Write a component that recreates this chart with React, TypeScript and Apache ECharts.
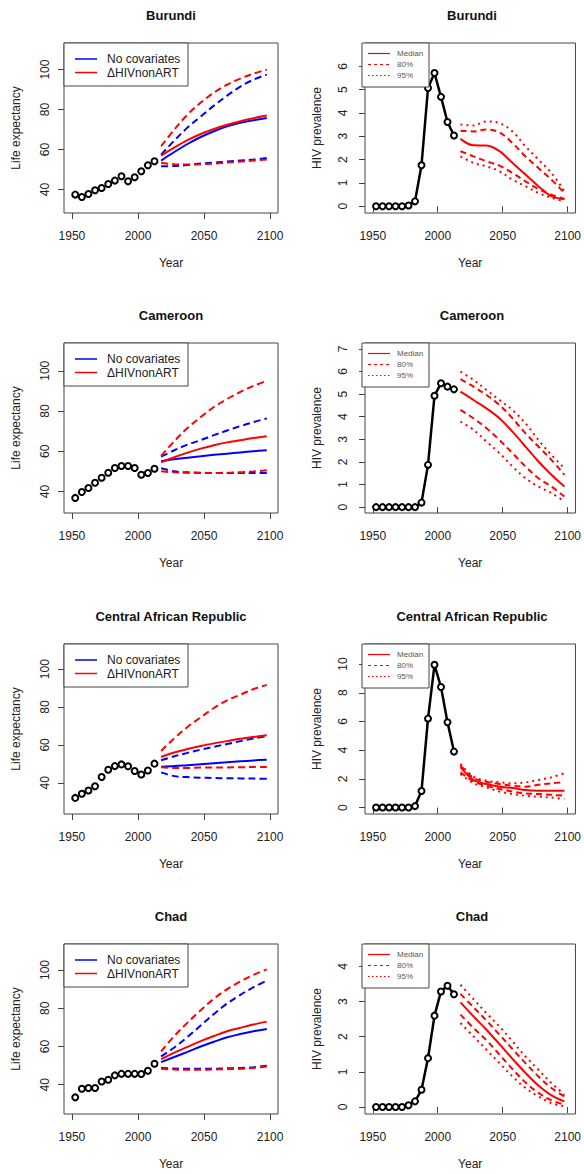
import React, { useEffect, useRef } from "react";
import * as echarts from "echarts";

// ---------- Data ----------
const COUNTRIES = ["Burundi", "Cameroon", "Central African Republic", "Chad"];
const OBS_YEARS = [1952.5, 1957.5, 1962.5, 1967.5, 1972.5, 1977.5, 1982.5, 1987.5, 1992.5, 1997.5, 2002.5, 2007.5, 2012.5];
const PROJ_YEARS = [2017.5, 2027.5, 2037.5, 2047.5, 2057.5, 2067.5, 2077.5, 2087.5, 2097.5];
const X_TICKS = [1950, 2000, 2050, 2100];
const LE_TICKS = [40, 60, 80, 100];
const HIV_TICKS_BURUNDI = [0, 1, 2, 3, 4, 5, 6];
const HIV_TICKS_CAMEROON = [0, 1, 2, 3, 4, 5, 6, 7];
const HIV_TICKS_CAR = [0, 2, 4, 6, 8, 10];
const HIV_TICKS_CHAD = [0, 1, 2, 3, 4];
const LEGEND_LE = ["No covariates", "\u0394HIVnonART"];
const LEGEND_HIV = ["Median", "80%", "95%"];

// Life expectancy — Burundi
const burundiLEObs = [37.5, 36.3, 37.8, 39.7, 40.8, 42.8, 44.5, 46.7, 44.2, 46.2, 49.2, 52.2, 54.2];
const burundiBlueMed = [54.5, 58.8, 62.8, 66.3, 69.2, 71.6, 73.4, 74.7, 75.8];
const burundiRedMed = [57, 61, 64.7, 67.8, 70.3, 72.4, 74.2, 75.7, 77];
const burundiBlueHi = [57.5, 64.5, 71, 76.5, 82, 87, 91.5, 95, 97.5];
const burundiRedHi = [61.7, 70, 77.5, 83.5, 88.5, 92.5, 95.5, 98, 100];
const burundiBlueLo = [51.7, 51.8, 52.3, 53, 53.5, 54, 54.5, 55, 55.8];
const burundiRedLo = [53.3, 52.7, 52.5, 52.7, 53, 53.5, 54, 54.5, 55];

// Life expectancy — Cameroon
const cameroonLEObs = [36.8, 39.7, 41.7, 44.3, 46.8, 49.3, 51.7, 52.7, 52.7, 51.7, 48.3, 49.2, 51.3];
const cameroonBlueMed = [55, 56, 56.8, 57.5, 58.2, 58.8, 59.4, 60, 60.5];
const cameroonRedMed = [54.5, 57, 59.3, 61.3, 63, 64.4, 65.5, 66.6, 67.5];
const cameroonBlueHi = [57.3, 60.5, 63.3, 65.5, 68, 70.3, 72.5, 74.5, 76.3];
const cameroonRedHi = [57.7, 65, 71.5, 77, 82, 86, 89.5, 92.5, 95];
const cameroonBlueLo = [51.5, 50, 49.5, 49.3, 49.2, 49.2, 49.2, 49.2, 49.2];
const cameroonRedLo = [50, 49.5, 49.3, 49.2, 49.2, 49.3, 49.6, 50, 50.5];

// Life expectancy — Central African Republic
const carLEObs = [32.0, 34.2, 35.9, 38.2, 43.0, 46.9, 48.8, 49.7, 48.7, 46.2, 44.4, 46.5, 50.1];
const carBlueMed = [48.5, 48.8, 49.3, 49.8, 50.3, 50.8, 51.3, 51.8, 52.2];
const carRedMed = [53.6, 56, 57.8, 59.4, 60.8, 62, 63.2, 64.2, 65.1];
const carBlueHi = [51.9, 54, 55.8, 57.5, 59, 60.5, 62, 63.4, 64.6];
const carRedHi = [56.8, 63.5, 69.5, 74.5, 79.5, 83.5, 86.5, 89.5, 91.7];
const carBlueLo = [45.5, 43.5, 43, 42.7, 42.5, 42.4, 42.3, 42.2, 42.1];
const carRedLo = [48.2, 47.8, 47.8, 48, 48, 48.1, 48.2, 48.3, 48.3];

// Life expectancy — Chad
const chadLEObs = [33.4, 37.9, 38.3, 38.3, 41.7, 42.6, 44.9, 45.7, 45.7, 45.7, 45.6, 47.3, 51.0];
const chadBlueMed = [51.8, 54.5, 57.2, 60, 62.5, 64.8, 66.5, 68, 69.2];
const chadRedMed = [53.4, 56.8, 59.8, 62.8, 65.5, 68, 69.8, 71.5, 73];
const chadBlueHi = [54.8, 59.5, 65, 71, 77, 82.5, 87, 91, 94.4];
const chadRedHi = [57.4, 65.5, 72.5, 79, 85, 90, 94, 97.5, 100.3];
const chadBlueLo = [48.8, 48.5, 48.3, 48.3, 48.4, 48.6, 48.8, 49.2, 49.9];
const chadRedLo = [48.3, 48, 47.8, 47.8, 48, 48.2, 48.3, 48.8, 49.6];

// HIV prevalence — Burundi
const burundiHIVObs = [0, 0, 0, 0, 0, 0.03, 0.21, 1.76, 5.07, 5.71, 4.69, 3.61, 3.03];
const burundiHIVMed = [2.89, 2.61, 2.6, 2.36, 1.86, 1.36, 0.86, 0.43, 0.3];
const burundiHIV80Hi = [3.24, 3.21, 3.29, 3.17, 2.71, 2.14, 1.64, 1.14, 0.57];
const burundiHIV80Lo = [2.36, 2.14, 1.93, 1.74, 1.43, 1.07, 0.74, 0.5, 0.31];
const burundiHIV95Hi = [3.5, 3.46, 3.64, 3.57, 3.21, 2.57, 2.0, 1.43, 0.64];
const burundiHIV95Lo = [2.14, 1.86, 1.71, 1.5, 1.14, 0.86, 0.57, 0.36, 0.21];

// HIV prevalence — Cameroon
const cameroonHIVObs = [0, 0, 0, 0, 0, 0, 0, 0.2, 1.87, 4.93, 5.48, 5.33, 5.21];
const cameroonHIVMed = [5.11, 4.74, 4.37, 3.93, 3.34, 2.68, 2.02, 1.43, 0.91];
const cameroonHIV80Hi = [5.66, 5.33, 4.96, 4.52, 3.93, 3.27, 2.68, 2.09, 1.43];
const cameroonHIV80Lo = [4.3, 3.93, 3.49, 2.97, 2.39, 1.8, 1.28, 0.91, 0.47];
const cameroonHIV95Hi = [5.99, 5.63, 5.18, 4.74, 4.3, 3.71, 2.97, 2.31, 1.72];
const cameroonHIV95Lo = [3.78, 3.42, 2.9, 2.39, 1.8, 1.28, 0.91, 0.62, 0.25];

// HIV prevalence — Central African Republic
const carHIVObs = [0, 0, 0, 0, 0, 0, 0.1, 1.15, 6.2, 9.95, 8.4, 5.95, 3.9];
const carHIVMed = [2.81, 1.92, 1.64, 1.45, 1.36, 1.22, 1.17, 1.17, 1.17];
const carHIV80Hi = [2.93, 2.06, 1.8, 1.64, 1.52, 1.45, 1.59, 1.69, 1.76];
const carHIV80Lo = [2.46, 1.83, 1.52, 1.29, 1.12, 0.98, 0.94, 0.89, 0.82];
const carHIV95Hi = [3.04, 2.15, 1.87, 1.76, 1.69, 1.76, 1.92, 2.11, 2.39];
const carHIV95Lo = [2.34, 1.69, 1.41, 1.12, 0.94, 0.82, 0.75, 0.7, 0.59];

// HIV prevalence — Chad
const chadHIVObs = [0, 0, 0, 0, 0, 0.05, 0.16, 0.49, 1.39, 2.6, 3.29, 3.45, 3.21];
const chadHIVMed = [2.98, 2.58, 2.2, 1.79, 1.37, 0.97, 0.61, 0.33, 0.16];
const chadHIV80Hi = [3.22, 2.84, 2.46, 2.06, 1.65, 1.25, 0.87, 0.54, 0.3];
const chadHIV80Lo = [2.63, 2.25, 1.9, 1.49, 1.08, 0.7, 0.4, 0.19, 0.07];
const chadHIV95Hi = [3.48, 3.07, 2.67, 2.29, 1.87, 1.44, 1.06, 0.68, 0.35];
const chadHIV95Lo = [2.39, 2.01, 1.63, 1.25, 0.87, 0.54, 0.3, 0.11, 0.02];

// ---------- Layout (styles) ----------
const FONT = "Liberation Sans, Arial, sans-serif";
const TXT = "#222";
const BOX = "#444";
const BLUE = "#0000FF";
const RED = "#FF0000";
const ROW_TOPS = [43, 343, 644, 944];
const PLOT_H = 170;
const LEFT_X = 64;
const RIGHT_X = 365;
const PLOT_W = 214;
const LE_RANGES = [[28.3, 113.3], [29.3, 113.8], [23.5, 113.3], [24.7, 113.6]];
const HIV_RANGES = [[-0.29, 7.0], [-0.26, 7.26], [-0.45, 11.4], [-0.2, 4.64]];

const LE_PANELS = [
  { obs: burundiLEObs, bm: burundiBlueMed, rm: burundiRedMed, bh: burundiBlueHi, rh: burundiRedHi, bl: burundiBlueLo, rl: burundiRedLo },
  { obs: cameroonLEObs, bm: cameroonBlueMed, rm: cameroonRedMed, bh: cameroonBlueHi, rh: cameroonRedHi, bl: cameroonBlueLo, rl: cameroonRedLo },
  { obs: carLEObs, bm: carBlueMed, rm: carRedMed, bh: carBlueHi, rh: carRedHi, bl: carBlueLo, rl: carRedLo },
  { obs: chadLEObs, bm: chadBlueMed, rm: chadRedMed, bh: chadBlueHi, rh: chadRedHi, bl: chadBlueLo, rl: chadRedLo },
];
const HIV_PANELS = [
  { obs: burundiHIVObs, med: burundiHIVMed, h80: burundiHIV80Hi, l80: burundiHIV80Lo, h95: burundiHIV95Hi, l95: burundiHIV95Lo, ticks: HIV_TICKS_BURUNDI },
  { obs: cameroonHIVObs, med: cameroonHIVMed, h80: cameroonHIV80Hi, l80: cameroonHIV80Lo, h95: cameroonHIV95Hi, l95: cameroonHIV95Lo, ticks: HIV_TICKS_CAMEROON },
  { obs: carHIVObs, med: carHIVMed, h80: carHIV80Hi, l80: carHIV80Lo, h95: carHIV95Hi, l95: carHIV95Lo, ticks: HIV_TICKS_CAR },
  { obs: chadHIVObs, med: chadHIVMed, h80: chadHIV80Hi, l80: chadHIV80Lo, h95: chadHIV95Hi, l95: chadHIV95Lo, ticks: HIV_TICKS_CHAD },
];

const zip = (xs: number[], ys: number[]) => xs.map((x, i) => [x, ys[i]]);
const plain = (v: number) => String(v);

function buildOption() {
  const grid: any[] = [];
  const xAxis: any[] = [];
  const yAxis: any[] = [];
  const series: any[] = [];
  const graphic: any[] = [];

  const makeX = (gi: number) => ({
    gridIndex: gi,
    type: "value",
    min: 1944,
    max: 2106,
    axisLine: { show: false },
    splitLine: { show: false },
    axisTick: { show: true, inside: false, length: 6, customValues: X_TICKS, lineStyle: { color: BOX, width: 1 } },
    axisLabel: { customValues: X_TICKS, formatter: plain, margin: 17, fontSize: 12, color: TXT, fontFamily: FONT },
    name: "Year",
    nameLocation: "middle",
    nameGap: 44,
    nameTextStyle: { fontSize: 12, color: TXT, fontFamily: FONT },
  });

  const makeY = (gi: number, range: number[], ticks: number[], name: string, margin: number) => ({
    gridIndex: gi,
    type: "value",
    min: range[0],
    max: range[1],
    axisLine: { show: false },
    splitLine: { show: false },
    axisTick: { show: true, inside: false, length: 6, customValues: ticks, lineStyle: { color: BOX, width: 1 } },
    axisLabel: { customValues: ticks, formatter: plain, rotate: 90, margin, fontSize: 12, color: TXT, fontFamily: FONT },
    name,
    nameLocation: "middle",
    nameRotate: 90,
    nameGap: 42,
    nameTextStyle: { fontSize: 12, color: TXT, fontFamily: FONT },
  });

  const line = (gi: number, ys: number[], color: string, type: any, width = 2) => ({
    type: "line",
    xAxisIndex: gi,
    yAxisIndex: gi,
    data: zip(PROJ_YEARS, ys),
    smooth: 0.35,
    showSymbol: false,
    symbol: "none",
    lineStyle: { color, width, type },
    silent: true,
    z: 3,
  });

  for (let r = 0; r < 4; r++) {
    const top = ROW_TOPS[r];
    // ----- left: life expectancy
    const gl = 2 * r;
    grid.push({ left: LEFT_X, top, width: PLOT_W, height: PLOT_H, show: true, borderColor: BOX, borderWidth: 1, backgroundColor: "transparent" });
    xAxis.push(makeX(gl));
    yAxis.push(makeY(gl, LE_RANGES[r], LE_TICKS, "Life expectancy", 13));
    const p = LE_PANELS[r];
    series.push({
      type: "scatter",
      xAxisIndex: gl,
      yAxisIndex: gl,
      data: zip(OBS_YEARS, p.obs),
      symbol: "emptyCircle",
      symbolSize: 6,
      itemStyle: { color: "#000", borderColor: "#000", borderWidth: 2, opacity: 1 },
      silent: true,
      z: 4,
    });
    const dashL = [7, 4];
    series.push(line(gl, p.bh, BLUE, dashL));
    series.push(line(gl, p.bl, BLUE, dashL));
    series.push(line(gl, p.bm, BLUE, "solid"));
    series.push(line(gl, p.rh, RED, dashL));
    series.push(line(gl, p.rl, RED, dashL));
    series.push(line(gl, p.rm, RED, "solid"));

    // ----- right: HIV prevalence
    const gr = 2 * r + 1;
    grid.push({ left: RIGHT_X, top, width: PLOT_W, height: PLOT_H, show: true, borderColor: BOX, borderWidth: 1, backgroundColor: "transparent" });
    xAxis.push(makeX(gr));
    yAxis.push(makeY(gr, HIV_RANGES[r], HIV_PANELS[r].ticks, "HIV prevalence", 16));
    const h = HIV_PANELS[r];
    series.push({
      type: "line",
      xAxisIndex: gr,
      yAxisIndex: gr,
      data: zip(OBS_YEARS, h.obs),
      symbol: "emptyCircle",
      symbolSize: 6,
      showSymbol: true,
      showAllSymbol: true,
      itemStyle: { color: "#000", borderColor: "#000", borderWidth: 2 },
      lineStyle: { color: "#000", width: 2.5, type: "solid" },
      silent: true,
      z: 4,
    });
    series.push(line(gr, h.h95, RED, [2, 4]));
    series.push(line(gr, h.l95, RED, [2, 4]));
    series.push(line(gr, h.h80, RED, [6, 4]));
    series.push(line(gr, h.l80, RED, [6, 4]));
    series.push(line(gr, h.med, RED, "solid"));

    // ----- titles
    [LEFT_X, RIGHT_X].forEach((x0) => {
      graphic.push({
        type: "text",
        x: x0 + PLOT_W / 2,
        y: top - 28,
        style: { text: COUNTRIES[r], fontSize: 13, fontWeight: "bold", fill: "#111", fontFamily: FONT, align: "center", verticalAlign: "middle" },
        silent: true,
      });
    });

    // ----- left legend
    graphic.push({
      type: "rect",
      shape: { x: LEFT_X, y: top, width: 124, height: 43 },
      style: { fill: "#fff", stroke: BOX, lineWidth: 1 },
      z: 10,
      silent: true,
    });
    [BLUE, RED].forEach((c, i) => {
      const yy = top + 16 + i * 13.5;
      graphic.push({ type: "line", shape: { x1: LEFT_X + 11, y1: yy, x2: LEFT_X + 33, y2: yy }, style: { stroke: c, lineWidth: 1.5 }, z: 11, silent: true });
      graphic.push({
        type: "text",
        x: LEFT_X + 43,
        y: yy,
        style: { text: LEGEND_LE[i], fontSize: 12, fill: TXT, fontFamily: FONT, align: "left", verticalAlign: "middle" },
        z: 11,
        silent: true,
      });
    });

    // ----- right legend
    graphic.push({
      type: "rect",
      shape: { x: RIGHT_X - 3, y: top, width: 67, height: 44 },
      style: { fill: "#fff", stroke: BOX, lineWidth: 1 },
      z: 10,
      silent: true,
    });
    const dashes: any[] = [null, [3, 3], [1.5, 2.5]];
    LEGEND_HIV.forEach((t, i) => {
      const yy = top + 10.5 + i * 11;
      graphic.push({
        type: "line",
        shape: { x1: RIGHT_X + 3, y1: yy, x2: RIGHT_X + 25, y2: yy },
        style: { stroke: RED, lineWidth: 1.2, lineDash: dashes[i] || undefined },
        z: 11,
        silent: true,
      });
      graphic.push({
        type: "text",
        x: RIGHT_X + 32,
        y: yy,
        style: { text: t, fontSize: 8, fill: "#555", fontFamily: FONT, align: "left", verticalAlign: "middle" },
        z: 11,
        silent: true,
      });
    });
  }

  return {
    animation: false,
    backgroundColor: "#fff",
    grid,
    xAxis,
    yAxis,
    series,
    graphic,
  };
}

export default function App() {
  const ref = useRef<HTMLDivElement>(null);
  useEffect(() => {
    document.body.style.margin = "0";
    if (!ref.current) return;
    const chart = echarts.init(ref.current, undefined, { renderer: "svg" });
    chart.setOption(buildOption() as any);
    return () => chart.dispose();
  }, []);
  return <div ref={ref} style={{ width: 584, height: 1174 }} />;
}
